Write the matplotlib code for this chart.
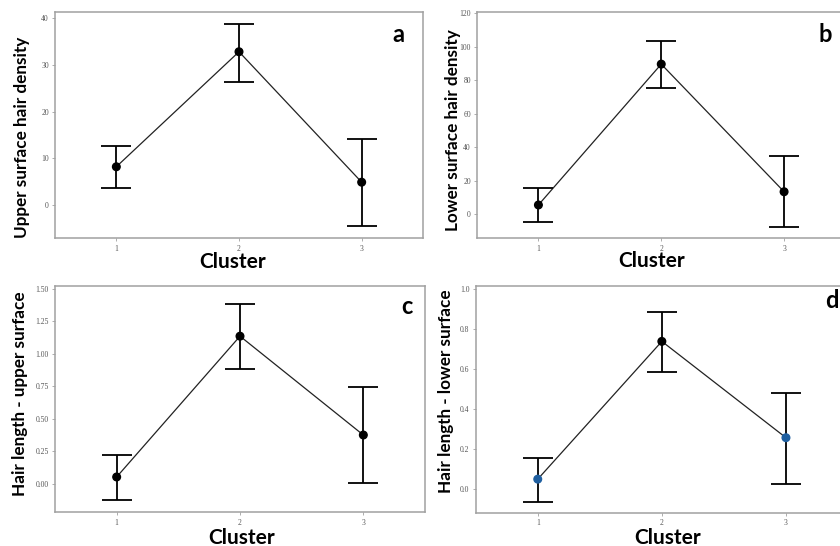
import matplotlib
matplotlib.use("Agg")
import matplotlib.pyplot as plt
from matplotlib.ticker import FormatStrFormatter

clusters = [1, 2, 3]

upper_density_mean = [8.2, 32.8, 4.9]
upper_density_low = [3.6, 26.4, -4.4]
upper_density_high = [12.6, 38.8, 14.1]

lower_density_mean = [5.6, 89.7, 13.5]
lower_density_low = [-4.8, 75.2, -7.4]
lower_density_high = [15.5, 103.6, 34.8]

upper_length_mean = [0.052, 1.136, 0.375]
upper_length_low = [-0.128, 0.886, 0.003]
upper_length_high = [0.221, 1.384, 0.747]

lower_length_mean = [0.050, 0.738, 0.257]
lower_length_low = [-0.063, 0.587, 0.028]
lower_length_high = [0.158, 0.887, 0.481]

panel_letters = ["a", "b", "c", "d"]
ylabels = ["Upper surface hair density", "Lower surface hair density",
           "Hair length - upper surface", "Hair length - lower surface"]
yticks_list = [[0, 10, 20, 30, 40], [0, 20, 40, 60, 80, 100, 120],
               [0.0, 0.25, 0.5, 0.75, 1.0, 1.25, 1.5], [0.0, 0.2, 0.4, 0.6, 0.8, 1.0]]
ylims = [(-7.1, 41.3), (-14.3, 121), (-0.22, 1.52), (-0.119, 1.013)]
fmts = ["%d", "%d", "%.2f", "%.1f"]
d_point_colors = ["#1f5fa0", "#000000", "#1f5fa0"]

W, H = 840, 546
fig = plt.figure(figsize=(W / 100, H / 100), dpi=100)

def rect(l, r, t, b):
    return [l / W, 1 - b / H, (r - l) / W, (b - t) / H]

rects = [rect(55, 423, 12, 238.3), rect(477, 845.5, 11.7, 238.3),
         rect(55, 425, 286.3, 512.3), rect(475.7, 848, 286.3, 513)]

data = [(upper_density_mean, upper_density_low, upper_density_high),
        (lower_density_mean, lower_density_low, lower_density_high),
        (upper_length_mean, upper_length_low, upper_length_high),
        (lower_length_mean, lower_length_low, lower_length_high)]

ylabel_pos = [(21.7, 137), (453, 130), (20, 394), (446, 391)]
xlabel_pos = [(233, 261.5), (652, 261), (242, 537.5), (668, 537.5)]
letter_pos = [(398, 35), (825, 35), (407, 306), (832, 300)]

label_font = "Lato"
grey = "#a0a0a0"

for i in range(4):
    ax = fig.add_axes(rects[i])
    mean, low, high = data[i]
    yerr = [[m - l for m, l in zip(mean, low)], [h - m for m, h in zip(mean, high)]]
    ax.plot(clusters, mean, color="#222222", lw=0.9, zorder=2)
    ax.errorbar(clusters, mean, yerr=yerr, fmt="none", ecolor="black",
                elinewidth=1.3, capsize=10.8, capthick=1.3, zorder=3)
    colors = d_point_colors if i == 3 else ["black"] * 3
    ax.scatter(clusters, mean, s=30, c=colors, zorder=4)
    ax.set_xlim(0.5, 3.5)
    ax.set_ylim(*ylims[i])
    ax.set_xticks(clusters)
    ax.set_yticks(yticks_list[i])
    ax.yaxis.set_major_formatter(FormatStrFormatter(fmts[i]))
    for lab in ax.get_xticklabels() + ax.get_yticklabels():
        lab.set_family("Liberation Serif")
        lab.set_fontsize(5.5)
        lab.set_color("#555555")
    ax.tick_params(length=2.5, width=0.6, color=grey, pad=2)
    for s in ax.spines.values():
        s.set_color(grey)
        s.set_linewidth(1.1)
    fig.text(ylabel_pos[i][0] / W, 1 - ylabel_pos[i][1] / H, ylabels[i],
             rotation=90, ha="center", va="center", family=label_font,
             fontweight="bold", fontsize=12.3)
    fig.text(xlabel_pos[i][0] / W, 1 - xlabel_pos[i][1] / H, "Cluster",
             ha="center", va="center", family=label_font,
             fontweight="bold", fontsize=15)
    fig.text(letter_pos[i][0] / W, 1 - letter_pos[i][1] / H, panel_letters[i],
             ha="center", va="center", family=label_font,
             fontweight="bold", fontsize=17)

fig.savefig("out.png", dpi=100)
